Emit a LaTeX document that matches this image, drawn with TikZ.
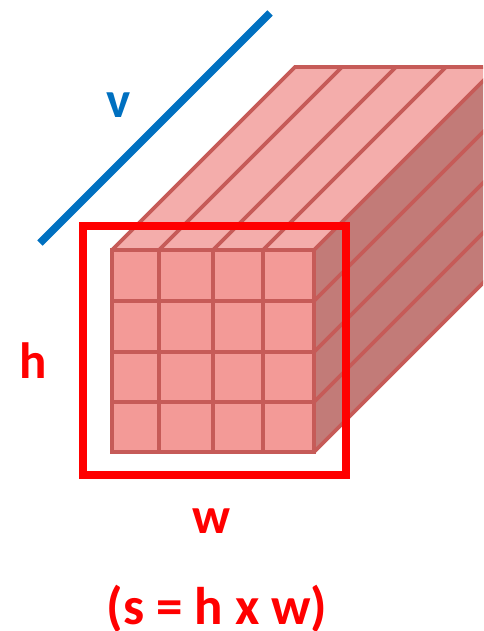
\documentclass[tikz,border=0pt]{standalone}
\usepackage{fontspec}
\setmainfont{Carlito}
\definecolor{edgecol}{HTML}{C65B58}
\definecolor{frontcol}{HTML}{F39A97}
\definecolor{topcol}{HTML}{F4ADAB}
\definecolor{sidecol}{HTML}{C27B78}
\definecolor{boxred}{HTML}{FF0000}
\definecolor{vblue}{HTML}{0070C0}
\tikzset{
  grid line/.style={draw=edgecol,line width=3.6pt,line join=miter},
  label text/.style={font=\bfseries\fontsize{51}{56}\selectfont,inner sep=0pt,anchor=base},
}
\begin{document}
\begin{tikzpicture}[x=1pt,y=-1pt]
\useasboundingbox (0,0) rectangle (483,631);
\begin{scope}
\clip (0,0) rectangle (483,631);
\fill[topcol] (112,250) -- (295,67) -- (498,67) -- (314,250) -- cycle;
\fill[sidecol] (314,250) -- (498,67) -- (498,269) -- (314,452) -- cycle;
\fill[frontcol] (112,250) rectangle (314,452);
\foreach \x in {159,213,263} \draw[grid line] (\x,250) -- ++(183,-183);
\foreach \y in {301,352,402} \draw[grid line] (314,\y) -- ++(183,-183);
\draw[grid line] (112,250) -- (295,67) -- (498,67);
\draw[grid line] (314,250) -- ++(183,-183);
\draw[grid line] (314,452) -- ++(183,-183);
\foreach \x in {159,213,263} \draw[grid line] (\x,250) -- (\x,452);
\foreach \y in {301,352,402} \draw[grid line] (112,\y) -- (314,\y);
\draw[grid line] (112,250) rectangle (314,452);
\end{scope}
\draw[boxred,line width=8pt] (83,226) rectangle (346,475);
\draw[vblue,line width=7.5pt] (40,243) -- (270,13);
\node[label text,text=vblue] (v) at (119,118) {v};
\node[label text,text=boxred] (h) at (33,378) {h};
\node[label text,text=boxred] (w) at (211,533) {w};
\node[label text,text=boxred,font=\bfseries\fontsize{53}{58}\selectfont] (s) at (217,624) {(s = h x w)};
\end{tikzpicture}
\end{document}
